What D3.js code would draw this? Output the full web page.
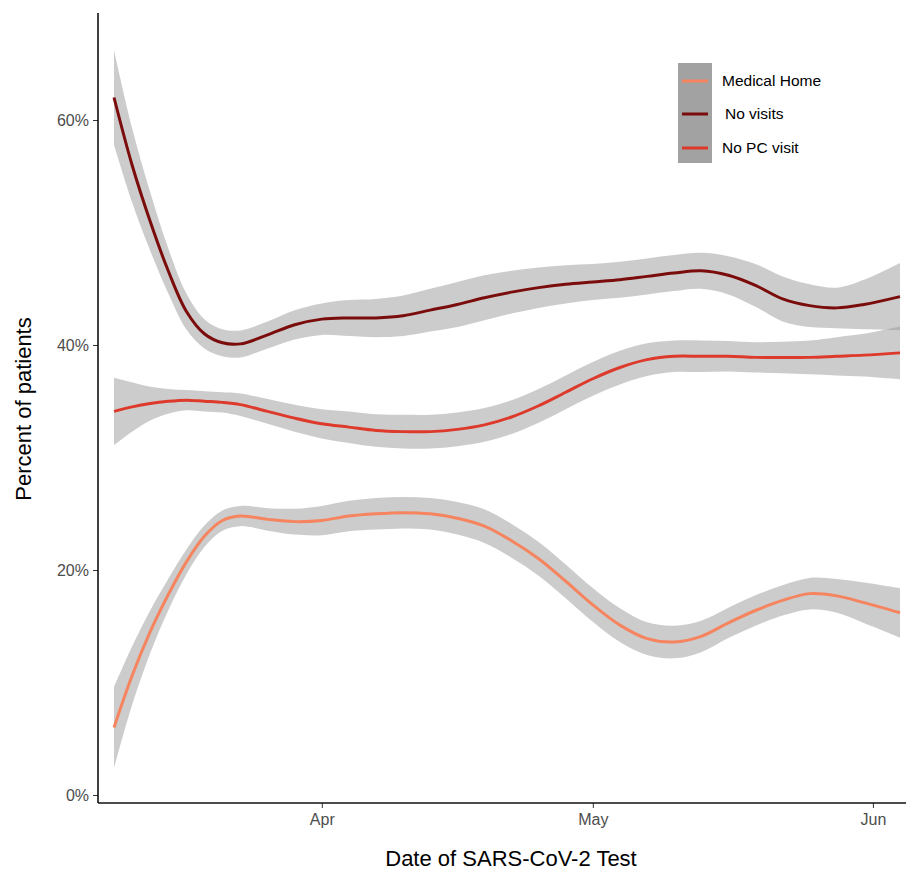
<!DOCTYPE html>
<html>
<head>
<meta charset="utf-8">
<script src="https://cdn.jsdelivr.net/npm/d3@7"></script>
<style>
  body { margin: 0; background: #fff; }
  svg { display: block; font-family: "Liberation Sans", Arial, sans-serif; }
  .axis text { fill: #4d4d4d; font-size: 16px; }
  .axis line { stroke: #333; }
</style>
</head>
<body>
<div id="chart"></div>
<script>
// test dates (2020)
var dates = ["2020-03-09","2020-03-11","2020-03-13","2020-03-15","2020-03-17","2020-03-19",
  "2020-03-21","2020-03-23","2020-03-26","2020-03-29","2020-04-01","2020-04-04","2020-04-07",
  "2020-04-10","2020-04-13","2020-04-16","2020-04-19","2020-04-22","2020-04-25","2020-04-28",
  "2020-05-01","2020-05-04","2020-05-07","2020-05-10","2020-05-13","2020-05-16","2020-05-19",
  "2020-05-22","2020-05-25","2020-05-28","2020-05-31","2020-06-04"];

// smoothed percent of patients, and half width of the grey band (both in %)
var medicalHome = [6.0,10.6,14.5,17.8,20.7,23.0,24.4,24.8,24.5,24.3,24.4,24.8,25.0,25.1,25.0,24.6,
  23.9,22.6,21.0,19.0,16.9,15.1,13.9,13.6,14.1,15.3,16.4,17.3,17.9,17.7,17.1,16.2];
var medicalHomeBand = [3.6,2.6,1.9,1.4,1.1,0.95,0.9,0.9,1.0,1.15,1.3,1.35,1.4,1.4,1.4,1.45,
  1.5,1.5,1.5,1.5,1.5,1.5,1.45,1.45,1.4,1.35,1.35,1.35,1.4,1.5,1.8,2.2];

var noVisits = [62.0,56.0,51.0,46.6,43.0,41.0,40.2,40.1,40.9,41.8,42.3,42.4,42.4,42.6,43.1,43.6,
  44.2,44.7,45.1,45.4,45.6,45.8,46.1,46.4,46.6,46.2,45.3,44.1,43.5,43.3,43.6,44.3];
var noVisitsBand = [4.2,3.3,2.6,2.0,1.6,1.3,1.2,1.2,1.2,1.3,1.4,1.6,1.7,1.8,1.9,2.0,
  2.0,1.9,1.8,1.7,1.6,1.6,1.6,1.6,1.6,1.7,1.9,2.0,1.9,1.8,2.2,3.0];

var noPcVisit = [34.1,34.5,34.8,35.0,35.1,35.0,34.9,34.7,34.1,33.5,33.0,32.7,32.4,32.3,32.3,32.5,
  32.9,33.6,34.6,35.8,37.0,38.0,38.7,39.0,39.0,39.0,38.9,38.9,38.9,39.0,39.1,39.3];
var noPcVisitBand = [3.0,2.2,1.5,1.1,0.9,0.9,0.9,1.0,1.1,1.2,1.3,1.4,1.45,1.5,1.5,1.5,
  1.5,1.5,1.5,1.5,1.5,1.5,1.45,1.4,1.4,1.35,1.35,1.4,1.5,1.7,1.9,2.35];

var groups = ["Medical Home", "No visits", "No PC visit"];
var colors = ["#f5845f", "#7b0c0c", "#dd3a2c"];
var yTicks = [0, 0.2, 0.4, 0.6];
var xTicks = ["2020-04-01", "2020-05-01", "2020-06-01"];

var W = 906, H = 871;
var parse = d3.timeParse("%Y-%m-%d");

var svg = d3.select("#chart").append("svg")
    .attr("width", W)
    .attr("height", H);

// data runs from x=114 to 900, panel from 98 to 906
var x0 = d3.scaleTime().domain([parse(dates[0]), parse(dates[dates.length - 1])]).range([114, 900]);
var x = d3.scaleTime().domain([x0.invert(98), x0.invert(906)]).range([98, 906]);
var y0 = d3.scaleLinear().domain([0, 0.6]).range([795, 120]);
var y = d3.scaleLinear().domain([y0.invert(803), y0.invert(13)]).range([803, 13]);

var series = [
  {name: groups[0], fit: medicalHome, band: medicalHomeBand, color: colors[0]},
  {name: groups[1], fit: noVisits, band: noVisitsBand, color: colors[1]},
  {name: groups[2], fit: noPcVisit, band: noPcVisitBand, color: colors[2]}
];

var curve = d3.curveCatmullRom.alpha(0.5);

var area = d3.area()
    .x(function(d) { return x(d.date); })
    .y0(function(d) { return y(d.lo); })
    .y1(function(d) { return y(d.hi); })
    .curve(curve);

var line = d3.line()
    .x(function(d) { return x(d.date); })
    .y(function(d) { return y(d.v); })
    .curve(curve);

series.forEach(function(s) {
  var pts = dates.map(function(dt, i) {
    return {date: parse(dt), v: s.fit[i] / 100,
            lo: (s.fit[i] - s.band[i]) / 100, hi: (s.fit[i] + s.band[i]) / 100};
  });
  svg.append("path")
      .datum(pts)
      .attr("d", area)
      .attr("fill", "#999999")
      .attr("fill-opacity", 0.5);
  svg.append("path")
      .datum(pts)
      .attr("d", line)
      .attr("fill", "none")
      .attr("stroke", s.color)
      .attr("stroke-width", 3);
});

// axes
var xAxis = svg.append("g")
    .attr("class", "axis")
    .attr("transform", "translate(0,803)")
    .call(d3.axisBottom(x)
      .tickValues(xTicks.map(parse))
      .tickFormat(d3.timeFormat("%b"))
      .tickSize(5).tickPadding(6));
xAxis.select(".domain").remove();

var yAxis = svg.append("g")
    .attr("class", "axis")
    .attr("transform", "translate(98,0)")
    .call(d3.axisLeft(y)
      .tickValues(yTicks)
      .tickFormat(d3.format(".0%"))
      .tickSize(5).tickPadding(4));
yAxis.select(".domain").remove();

svg.append("line")
    .attr("x1", 98).attr("x2", 906).attr("y1", 803).attr("y2", 803)
    .attr("stroke", "#111").attr("stroke-width", 1.6);
svg.append("line")
    .attr("x1", 98).attr("x2", 98).attr("y1", 13).attr("y2", 803)
    .attr("stroke", "#111").attr("stroke-width", 1.6);

// axis titles
svg.append("text")
    .attr("x", 511).attr("y", 866)
    .attr("text-anchor", "middle")
    .style("font-size", "22px")
    .text("Date of SARS-CoV-2 Test");

svg.append("text")
    .attr("transform", "translate(31,409) rotate(-90)")
    .attr("text-anchor", "middle")
    .style("font-size", "22px")
    .text("Percent of patients");

// legend
var legend = svg.append("g").attr("transform", "translate(678,63)");
legend.append("rect")
    .attr("width", 34).attr("height", 100)
    .attr("fill", "#a2a2a2");
var keyY = [18, 51, 85];
var labelX = [44, 47, 44];
groups.forEach(function(g, i) {
  legend.append("line")
      .attr("x1", 4).attr("x2", 30)
      .attr("y1", keyY[i]).attr("y2", keyY[i])
      .attr("stroke", colors[i]).attr("stroke-width", 3);
  legend.append("text")
      .attr("x", labelX[i]).attr("y", keyY[i] + 5)
      .style("font-size", "15.5px")
      .text(g);
});
</script>
</body>
</html>
